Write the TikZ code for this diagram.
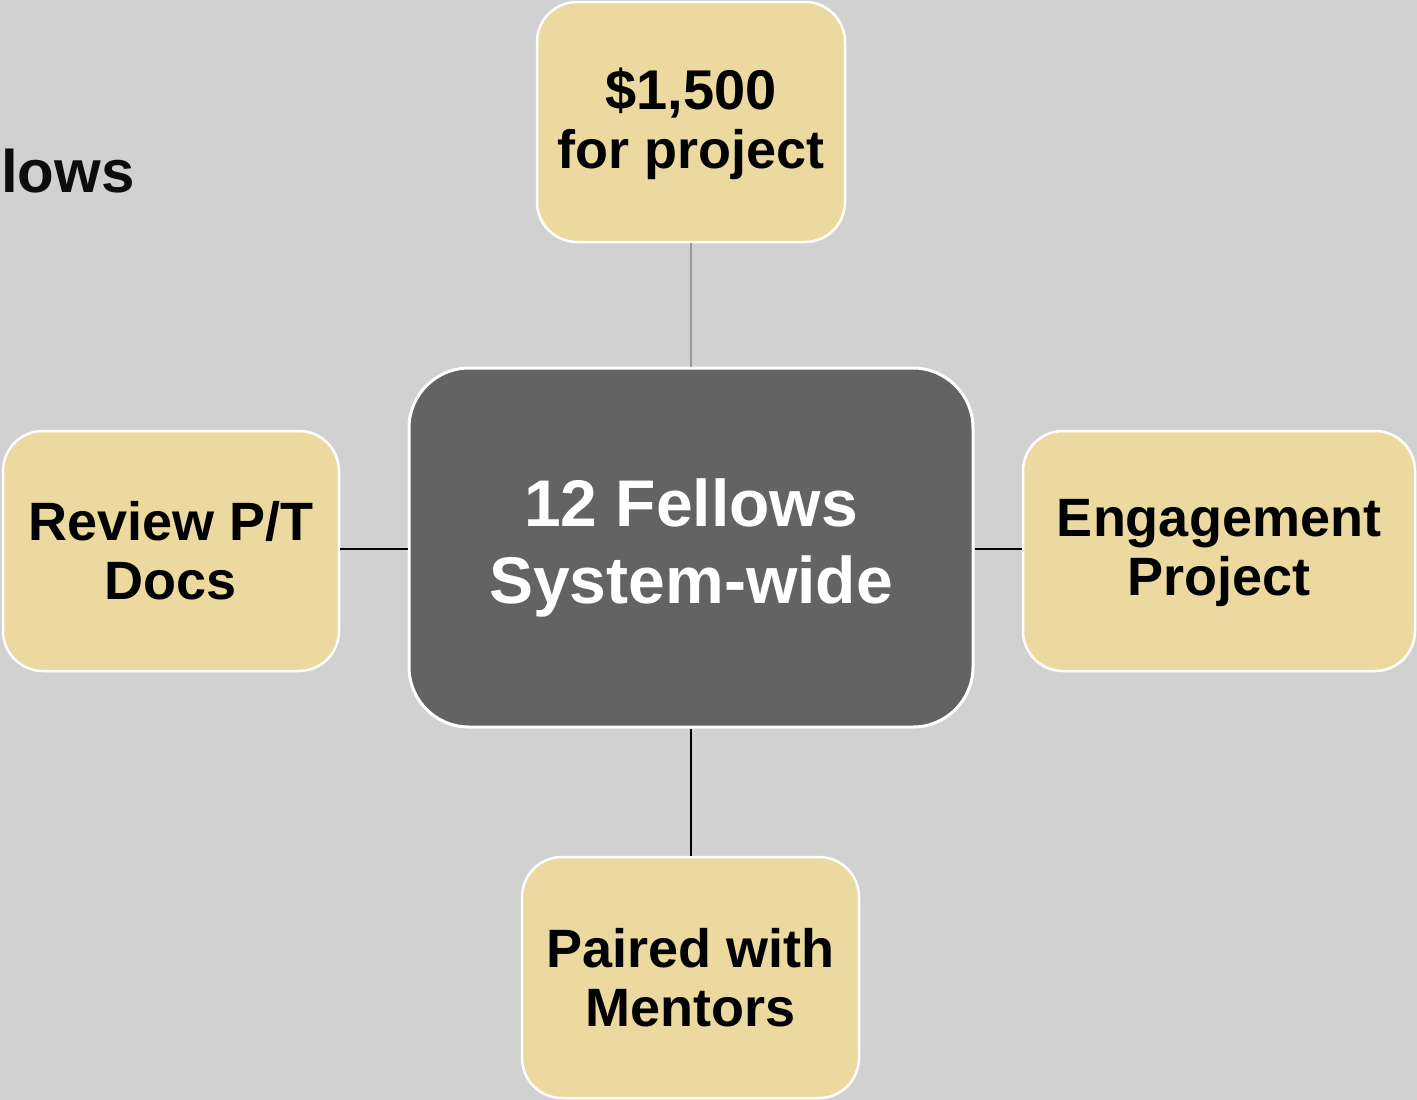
\documentclass[tikz,border=0pt]{standalone}
\usepackage{fontspec}
\setmainfont{Liberation Sans}
\definecolor{bg}{HTML}{D1D1D1}
\definecolor{boxy}{HTML}{EBD9A0}
\definecolor{boxg}{HTML}{636363}
\definecolor{lineg}{HTML}{999999}
\begin{document}
\begin{tikzpicture}[x=1pt,y=-1pt,
  ybox/.style={draw=white,line width=2.5pt,fill=boxy,rounded corners=40pt,align=center,
    font=\bfseries\fontsize{54}{59}\selectfont,text=black,inner sep=0pt},
  gbox/.style={draw=white,line width=3pt,fill=boxg,rounded corners=60pt,align=center,
    font=\bfseries\fontsize{66}{77}\selectfont,text=white,inner sep=0pt},
  conn/.style={line width=2pt,black}]
\fill[bg] (0,0) rectangle (1417,1100);
\useasboundingbox (0,0) rectangle (1417,1100);
\node[anchor=base west,font=\bfseries\fontsize{60}{70}\selectfont,text=black!95,inner sep=0pt] (title) at (1,192) {lows};
\node[gbox,minimum width=564pt,minimum height=359pt] (c) at (691,547.5) {12 Fellows\\System-wide};
\node[ybox,minimum width=308pt,minimum height=240pt,text depth=8pt] (t) at (691,122) {\fontsize{56}{60}\selectfont\$1,500\\for project};
\node[ybox,minimum width=336pt,minimum height=240pt] (l) at (171,551) {Review P/T\\Docs};
\node[ybox,minimum width=392pt,minimum height=240pt,text depth=8pt] (r) at (1219,551) {Engagement\\Project};
\node[ybox,minimum width=337pt,minimum height=241pt] (b) at (690.5,977.5) {Paired with\\Mentors};
\draw[conn,lineg] (t.south) -- (c.north);
\draw[conn] (l.east |- 0,549) -- (c.west |- 0,549);
\draw[conn] (c.east |- 0,549) -- (r.west |- 0,549);
\draw[conn] (c.south) -- (c.south |- b.north);
\end{tikzpicture}
\end{document}
